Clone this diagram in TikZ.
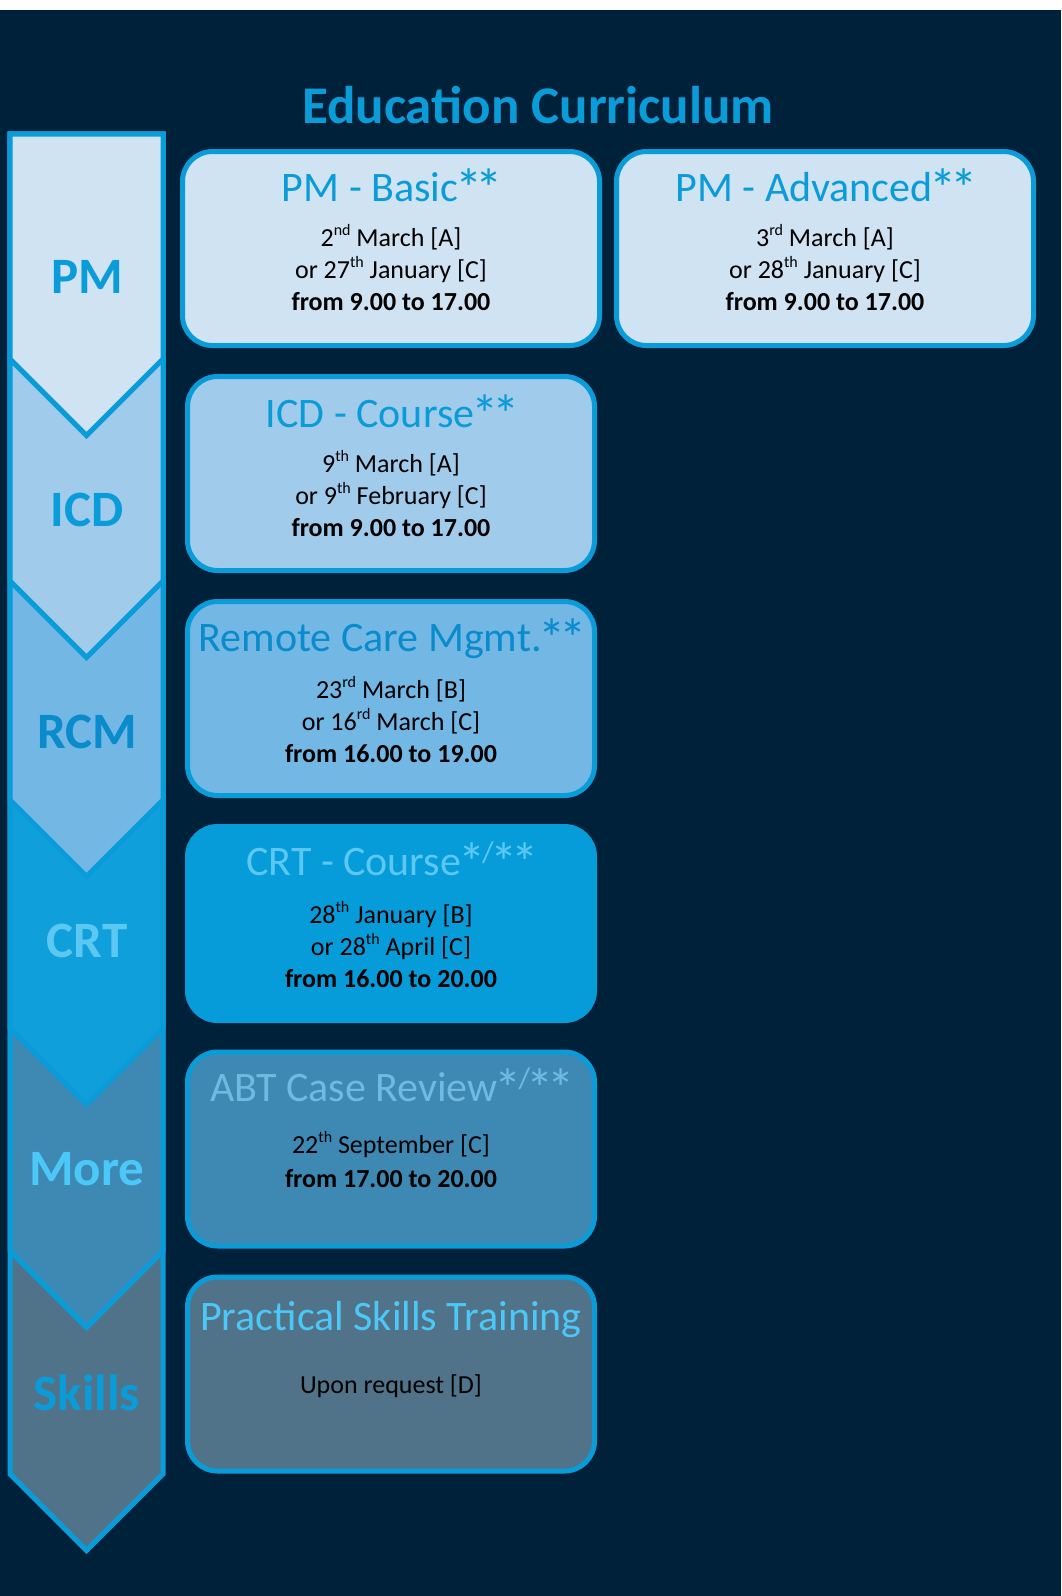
\documentclass[tikz,border=0pt]{standalone}
\usepackage{fontspec}
\usepackage{calc}
\setmainfont{Carlito}
\definecolor{bgc}{HTML}{00213A}
\definecolor{edge}{HTML}{0A9BD9}
\definecolor{pmfill}{HTML}{CFE3F3}
\definecolor{icdfill}{HTML}{A1CBEB}
\definecolor{rcmfill}{HTML}{73B7E4}
\definecolor{crtchev}{HTML}{0FA0DC}
\definecolor{crtbox}{HTML}{069BD9}
\definecolor{morefill}{HTML}{3D89B3}
\definecolor{skillfill}{HTML}{517389}
\definecolor{blueA}{HTML}{0A9BD9}
\definecolor{blueB}{HTML}{0A8BCB}
\definecolor{cyanA}{HTML}{5CC8F2}
\definecolor{paleA}{HTML}{6FB9E3}
\definecolor{cyanB}{HTML}{4CC8F8}
\newcommand\supx[1]{\raisebox{0.42em}{\fontsize{16}{16}\selectfont #1}}
\newcommand\onestar{\makebox[\widthof{*}][c]{\raisebox{-6pt}{\scalebox{1.3}{*}}}}
\newcommand\twostars{\onestar\onestar}
\newcommand\slashsup{\raisebox{0.3em}{\fontsize{30}{30}\selectfont /}}
\tikzset{
  chev/.style={draw=edge, line width=5pt, line join=miter},
  course/.style={draw=edge, line width=5pt, rounded corners=30pt, minimum width=407pt, minimum height=194pt, inner sep=0pt},
  ttl/.style={anchor=base, font=\fontsize{42}{50}\selectfont, inner sep=0pt},
  body/.style={anchor=base, font=\fontsize{26}{32}\selectfont, inner sep=0pt, text=black},
  bodyb/.style={anchor=base, font=\fontsize{26}{32}\selectfont\bfseries, inner sep=0pt, text=black},
  chevtxt/.style={anchor=base, font=\fontsize{51}{60}\selectfont\bfseries, inner sep=0pt}
}
\begin{document}
\begin{tikzpicture}[x=1pt,y=-1pt]
\useasboundingbox (0,0) rectangle (1061,1596);
\fill[bgc] (0,0) rectangle (1061,1596);
\fill[white] (0,0) rectangle (1061,10);

% chevron column
\foreach \c/\f in {1474/skillfill, 1251/morefill, 1028/crtchev, 800/rcmfill, 581/icdfill, 359/pmfill} {
  \filldraw[chev, fill=\f] (10,134) -- (163,134) -- (163,\c) -- (86.5,{\c+76.5}) -- (10,\c) -- cycle;
}
\node[chevtxt, text=blueA] (cpm) at (87,293) {PM};
\node[chevtxt, text=blueA] (cicd) at (87,526) {ICD};
\node[chevtxt, text=blueB] (crcm) at (87,748) {RCM};
\node[chevtxt, text=cyanA] (ccrt) at (87,957) {CRT};
\node[chevtxt, text=cyanB] (cmore) at (87,1185) {More};
\node[chevtxt, text=blueA] (cskills) at (87,1410) {Skills};

% title
\node[anchor=base, inner sep=0pt, text=blueA, font=\fontsize{53}{60}\selectfont\bfseries] (title) at (538,123) {Education Curriculum};

% boxes
\node[course, fill=pmfill, minimum width=417pt] (pmb) at (391,248.5) {};
\node[course, fill=pmfill, minimum width=417pt] (pma) at (825,248.5) {};
\node[course, fill=icdfill] (icd) at (391,473.5) {};
\node[course, fill=rcmfill] (rcm) at (391,698.5) {};
\node[course, fill=crtbox, draw=crtbox] (crt) at (391,923.5) {};
\node[course, fill=morefill] (abt) at (391,1149) {};
\node[course, fill=skillfill] (pst) at (391,1374) {};

% PM Basic
\node[ttl, text=blueA] (pmbt) at (391,201.5) {PM - Basic\twostars};
\node[body] (pmb1) at (391,246) {2\supx{nd} March [A]};
\node[body] (pmb2) at (391,278) {or 27\supx{th} January [C]};
\node[bodyb] (pmb3) at (391,310) {from 9.00 to 17.00};
% PM Advanced
\node[ttl, text=blueA] (pmat) at (825,201.5) {PM - Advanced\twostars};
\node[body] (pma1) at (825,246) {3\supx{rd} March [A]};
\node[body] (pma2) at (825,278) {or 28\supx{th} January [C]};
\node[bodyb] (pma3) at (825,310) {from 9.00 to 17.00};
% ICD
\node[ttl, text=blueA] (icdt) at (391,427) {ICD - Course\twostars};
\node[body] (icd1) at (391,472) {9\supx{th} March [A]};
\node[body] (icd2) at (391,504) {or 9\supx{th} February [C]};
\node[bodyb] (icd3) at (391,536) {from 9.00 to 17.00};
% RCM
\node[ttl, text=blueB] (rcmt) at (391,651) {Remote Care Mgmt.\twostars};
\node[body] (rcm1) at (391,698) {23\supx{rd} March [B]};
\node[body] (rcm2) at (391,730) {or 16\supx{rd} March [C]};
\node[bodyb] (rcm3) at (391,762) {from 16.00 to 19.00};
% CRT
\node[ttl, text=cyanA] (crtt) at (391,875) {CRT - Course\onestar\slashsup\twostars};
\node[body] (crt1) at (391,923) {28\supx{th} January [B]};
\node[body] (crt2) at (391,955) {or 28\supx{th} April [C]};
\node[bodyb] (crt3) at (391,987) {from 16.00 to 20.00};
% ABT
\node[ttl, text=paleA] (abtt) at (391,1101) {ABT Case Review\onestar\slashsup\twostars};
\node[body] (abt1) at (391,1153) {22\supx{th} September [C]};
\node[bodyb] (abt2) at (391,1187) {from 17.00 to 20.00};
% Practical
\node[ttl, text=cyanB] (pstt) at (391,1330) {Practical Skills Training};
\node[body] (pst1) at (391,1393) {Upon request [D]};
\end{tikzpicture}
\end{document}
